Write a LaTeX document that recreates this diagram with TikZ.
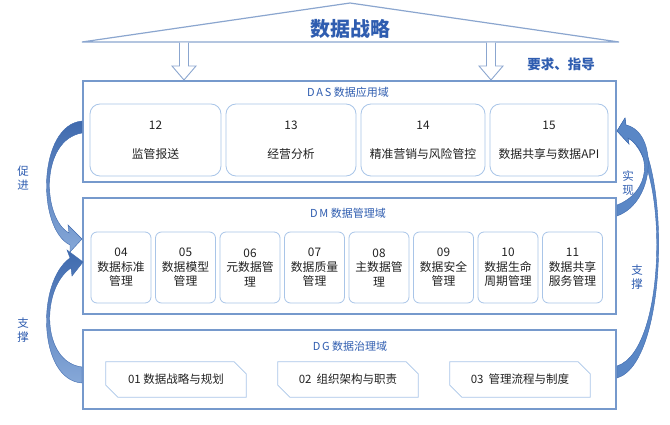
\documentclass[tikz,border=0pt]{standalone}
\usepackage{fontspec}
\setmainfont{Noto Sans CJK SC}
\definecolor{titleblue}{HTML}{2F5DB0}
\definecolor{boxc}{HTML}{7699CC}
\definecolor{innerc}{HTML}{A9C5E8}
\definecolor{arrowc}{HTML}{5A87C6}
\definecolor{arrowd}{HTML}{3F6AAE}
\definecolor{arrowl}{HTML}{86A8D8}
\definecolor{tric}{HTML}{8BA6CF}
\definecolor{txt}{HTML}{222222}
\begin{document}
\begin{tikzpicture}[x=1pt,y=-1pt,
  outerbox/.style={draw=boxc, line width=2.6pt, fill=white, inner sep=0pt, minimum width=533pt},
  dasbox/.style={draw=innerc, line width=0.8pt, rounded corners=10pt, minimum height=72pt, align=center, font=\fontsize{11.8}{29}\selectfont, text=txt, inner sep=0pt},
  dmbox/.style={draw=innerc, line width=0.8pt, rounded corners=6pt, minimum width=60pt, minimum height=71pt, align=center, font=\fontsize{11.8}{14.5}\selectfont, text=txt, inner sep=0pt},
  dglabel/.style={minimum width=140pt, minimum height=35pt, font=\fontsize{11.5}{13}\selectfont, text=txt, inner sep=0pt},
  hexline/.style={draw=innerc, line width=0.8pt},
  domtitle/.style={text=titleblue, font=\fontsize{11}{12}\selectfont},
  sidelabel/.style={text=titleblue, align=center, font=\fontsize{11.5}{14.5}\selectfont},
  hollow/.style={draw=tric, line width=0.9pt, fill=white},
  curvyl/.style={top color=arrowd, bottom color=arrowl, draw=arrowd, line width=0.4pt},
  curvyr/.style={fill=arrowc, draw=arrowd, line width=0.4pt},
]
\useasboundingbox (0,0) rectangle (670,425);

% strategy roof
\coordinate (tl) at (82,42);
\coordinate (tr) at (619,42);
\coordinate (apex) at (350,3);
\draw[draw=tric, line width=1.2pt, fill=white] (tl) -- (apex) -- (tr) -- cycle;
\node[text=titleblue, font=\fontsize{20}{22}\selectfont\bfseries] (strat) at (350,29) {数据战略};
\node[text=titleblue, font=\fontsize{13.5}{15}\selectfont\bfseries] (req) at (561,64) {要求、指导};

% hollow down arrows
\foreach \c in {184,491}{
  \draw[hollow] (\c-4.5,42.6) -- (\c-4.5,66) -- (\c-12,66) -- (\c,80) -- (\c+12,66) -- (\c+4.5,66) -- (\c+4.5,42.6);
}

% DAS
\node[outerbox, minimum height=101pt] (das) at (349.5,131.5) {};
\node[domtitle] (dastitle) at (348,92) {D\,A\,S 数据应用域};
\node[dasbox, minimum width=131pt] (d12) at (155.5,140) {12\\监管报送};
\node[dasbox, minimum width=130pt] (d13) at (291,140) {13\\经营分析};
\node[dasbox, minimum width=124pt] (d14) at (423,140) {14\\精准营销与风险管控};
\node[dasbox, minimum width=118pt] (d15) at (549,140) {15\\数据共享与数据API};

% DM
\node[outerbox, minimum height=116pt] (dm) at (349.5,256) {};
\node[domtitle] (dmtitle) at (348,213) {D\,M 数据管理域};
\node[dmbox] (m04) at (121,267.5) {04\\数据标准\\管理};
\node[dmbox] (m05) at (185.5,267.5) {05\\数据模型\\管理};
\node[dmbox] (m06) at (250,267.5) {06\\元数据管\\理};
\node[dmbox] (m07) at (314.5,267.5) {07\\数据质量\\管理};
\node[dmbox] (m08) at (379,267.5) {08\\主数据管\\理};
\node[dmbox] (m09) at (443.5,267.5) {09\\数据安全\\管理};
\node[dmbox] (m10) at (508,267.5) {10\\数据生命\\周期管理};
\node[dmbox] (m11) at (572.5,267.5) {11\\数据共享\\服务管理};

% DG
\node[outerbox, minimum height=79pt] (dg) at (349.5,369.5) {};
\node[domtitle] (dgtitle) at (350,346) {D\,G 数据治理域};
\foreach \n/\x/\t in {g1/176/01 数据战略与规划, g2/348/02\ \ 组织架构与职责, g3/520/03\ \ 管理流程与制度}{
  \node[dglabel] (\n) at (\x,379.5) {\t};
  \draw[hexline] (\n.north west) -- ([xshift=-12pt]\n.north east) -- ([yshift=-12pt]\n.north east)
     -- (\n.south east) -- ([xshift=12pt]\n.south west) -- ([yshift=12pt]\n.south west) -- cycle;
}

% curved arrows, left
\draw[curvyl] (82,121) .. controls (38,125) and (36,228) .. (70,245) -- (70,252) -- (82,239) -- (68,225) -- (69,233)
   .. controls (42,218) and (40,140) .. (82,133) -- cycle;
\draw[curvyl] (82,383) .. controls (38,380) and (36,282) .. (70,258) -- (67,250) -- (83,262) -- (72,276) -- (71,268)
   .. controls (41,288) and (41,362) .. (82,367) -- cycle;
% curved arrows, right
\draw[curvyr] (617,378) .. controls (672,362) and (670,138) .. (626,125) -- (625,118) -- (617,131) -- (629,144) -- (628,138)
   .. controls (668,160) and (668,350) .. (617,366) -- cycle;
\draw[curvyr] (617,216) .. controls (656,202) and (658,132) .. (626,125) -- (625,118) -- (617,131) -- (629,144) -- (628,138)
   .. controls (652,152) and (651,192) .. (617,205) -- cycle;

% side labels
\node[sidelabel] (lab1) at (23,178) {促\\进};
\node[sidelabel] (lab2) at (23,330) {支\\撑};
\node[sidelabel] (lab3) at (628,183) {实\\现};
\node[sidelabel] (lab4) at (637,277) {支\\撑};
\end{tikzpicture}
\end{document}
